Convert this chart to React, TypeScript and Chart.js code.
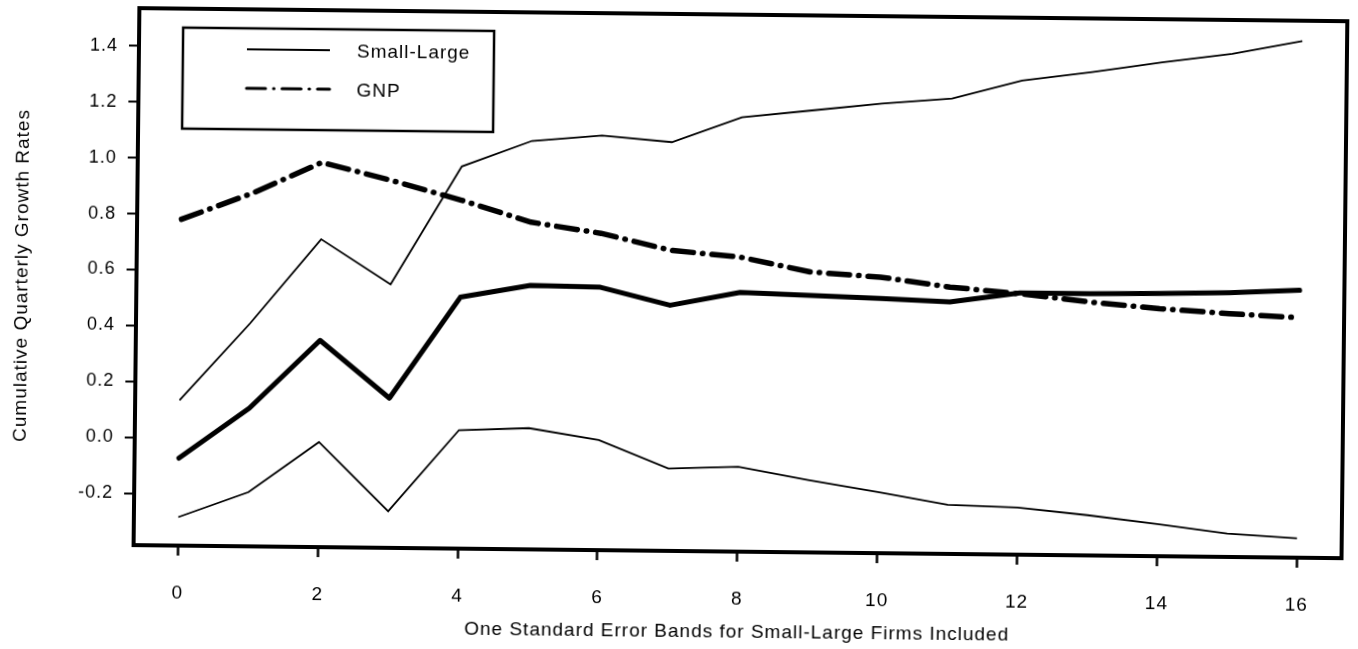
import { useEffect, useRef } from "react";
import { Chart, registerables } from "chart.js";

Chart.register(...registerables);

// Quarters after the shock (x axis)
const steps = [0, 1, 2, 3, 4, 5, 6, 7, 8, 9, 10, 11, 12, 13, 14, 15, 16];

// Cumulative response of small-minus-large firm growth, with one-s.e. bands
const smallLarge = [-0.073, 0.109, 0.354, 0.15, 0.514, 0.559, 0.555, 0.493, 0.542, 0.534, 0.526, 0.516, 0.551, 0.551, 0.554, 0.56, 0.571];
const upperBand = [0.134, 0.413, 0.716, 0.557, 0.982, 1.076, 1.098, 1.077, 1.169, 1.196, 1.223, 1.244, 1.311, 1.344, 1.382, 1.415, 1.463];
const lowerBand = [-0.284, -0.192, -0.01, -0.255, 0.038, 0.048, 0.008, -0.091, -0.082, -0.127, -0.167, -0.21, -0.217, -0.242, -0.271, -0.302, -0.317];

// Cumulative GNP growth response
const gnp = [0.782, 0.877, 0.991, 0.929, 0.861, 0.785, 0.748, 0.69, 0.668, 0.618, 0.602, 0.569, 0.548, 0.521, 0.5, 0.485, 0.473];

const xTickValues = [0, 2, 4, 6, 8, 10, 12, 14, 16];
const yTickValues = [-0.2, 0, 0.2, 0.4, 0.6, 0.8, 1.0, 1.2, 1.4];

const seriesNames = ["Small-Large", "GNP"];
const xTitle = "One Standard Error Bands for Small-Large Firms Included";
const yTitle = "Cumulative Quarterly Growth Rates";

const FONT = '"Liberation Sans", Arial, Helvetica, sans-serif';
const INK = "#000";
const GNP_DASH = [21, 9, 0.5, 9];

const toPoints = (values: number[]) => steps.map((s, i) => ({ x: s, y: values[i] }));

// Thick outer box around the plotting area
const framePlugin = {
  id: "frame",
  beforeDraw(chart: any) {
    (chart.ctx as any).letterSpacing = "1px";
  },
  afterDatasetsDraw(chart: any) {
    const { ctx, chartArea: a } = chart;
    ctx.save();
    ctx.strokeStyle = INK;
    ctx.lineWidth = 4;
    ctx.lineJoin = "miter";
    ctx.strokeRect(a.left, a.top, a.right - a.left, a.bottom - a.top);
    ctx.restore();
  },
};

// Boxed key in the upper-left corner of the plot
const keyPlugin = {
  id: "boxKey",
  afterDraw(chart: any) {
    const { ctx, chartArea: a } = chart;
    const bx = a.left + 44;
    const by = a.top + 19;
    const bw = 311;
    const bh = 101;
    ctx.save();
    ctx.fillStyle = "#fff";
    ctx.fillRect(bx, by, bw, bh);
    ctx.strokeStyle = INK;
    ctx.lineWidth = 2.5;
    ctx.strokeRect(bx, by, bw, bh);

    const x0 = a.left + 108;
    const x1 = a.left + 191;
    const rows = [a.top + 40, a.top + 79];

    ctx.lineCap = "butt";
    ctx.lineWidth = 2;
    ctx.setLineDash([]);
    ctx.beginPath();
    ctx.moveTo(x0, rows[0]);
    ctx.lineTo(x1, rows[0]);
    ctx.stroke();

    ctx.lineWidth = 3;
    ctx.lineCap = "round";
    ctx.setLineDash([19, 8, 0.5, 8]);
    ctx.beginPath();
    ctx.moveTo(x0, rows[1]);
    ctx.lineTo(x1, rows[1]);
    ctx.stroke();
    ctx.setLineDash([]);

    ctx.fillStyle = INK;
    ctx.font = `19px ${FONT}`;
    (ctx as any).letterSpacing = "1px";
    ctx.textAlign = "left";
    ctx.textBaseline = "middle";
    ctx.fillText(seriesNames[0], a.left + 218, rows[0] + 2);
    ctx.fillText(seriesNames[1], a.left + 218, rows[1] + 2);
    ctx.restore();
  },
};

export default function App() {
  const canvasRef = useRef<HTMLCanvasElement | null>(null);

  useEffect(() => {
    const canvas = canvasRef.current;
    if (!canvas) return;

    const thin = { borderColor: INK, borderWidth: 1.8, pointRadius: 0, tension: 0, fill: false };

    const chart = new Chart(canvas, {
      type: "line",
      data: {
        datasets: [
          { label: "upper", data: toPoints(upperBand), ...thin },
          { label: "lower", data: toPoints(lowerBand), ...thin },
          {
            label: seriesNames[0],
            data: toPoints(smallLarge),
            borderColor: INK,
            borderWidth: 5,
            borderJoinStyle: "round",
            borderCapStyle: "round",
            pointRadius: 0,
            tension: 0,
          },
          {
            label: seriesNames[1],
            data: toPoints(gnp),
            borderColor: INK,
            borderWidth: 5.5,
            borderDash: GNP_DASH,
            borderCapStyle: "round",
            borderJoinStyle: "round",
            pointRadius: 0,
            tension: 0,
          },
        ],
      },
      options: {
        responsive: false,
        animation: false,
        events: [],
        devicePixelRatio: 1,
        layout: { padding: { top: 14, right: 14, left: 0, bottom: 0 } },
        plugins: {
          legend: { display: false },
          tooltip: { enabled: false },
        },
        scales: {
          x: {
            type: "linear",
            min: -0.635,
            max: 16.64,
            afterBuildTicks: (scale: any) => {
              scale.ticks = xTickValues.map((v) => ({ value: v }));
            },
            afterFit: (scale: any) => {
              scale.height = 98;
              scale.paddingLeft = 0;
              scale.paddingRight = 0;
            },
            border: { display: false },
            grid: {
              drawOnChartArea: false,
              drawTicks: true,
              tickLength: 10,
              tickWidth: 2.5,
              tickColor: INK,
            },
            ticks: {
              color: INK,
              font: { family: FONT, size: 19 },
              padding: 26,
              maxRotation: 0,
              autoSkip: false,
              callback: (v: any) => String(v),
            },
            title: {
              display: true,
              text: xTitle,
              color: INK,
              font: { family: FONT, size: 19 },
              padding: { top: 0, bottom: 6 },
            },
          },
          y: {
            type: "linear",
            min: -0.386,
            max: 1.536,
            afterBuildTicks: (scale: any) => {
              scale.ticks = yTickValues.map((v) => ({ value: v }));
            },
            afterFit: (scale: any) => {
              scale.width = 136;
              scale.paddingTop = 0;
              scale.paddingBottom = 0;
            },
            border: { display: false },
            grid: {
              drawOnChartArea: false,
              drawTicks: true,
              tickLength: 10,
              tickWidth: 2,
              tickColor: INK,
            },
            ticks: {
              color: INK,
              font: { family: FONT, size: 18 },
              padding: 11,
              callback: (v: any) => Number(v).toFixed(1),
            },
            title: {
              display: true,
              text: yTitle,
              color: INK,
              font: { family: FONT, size: 19 },
              padding: { top: 10, bottom: 0 },
            },
          },
        },
      },
      plugins: [framePlugin, keyPlugin],
    } as any);

    return () => chart.destroy();
  }, []);

  return (
    <div
      style={{
        position: "absolute",
        left: 0,
        top: 0,
        width: 1358,
        height: 649,
        overflow: "hidden",
        background: "#fff",
      }}
    >
      <canvas
        ref={canvasRef}
        width={1358}
        height={649}
        style={{
          display: "block",
          width: 1358,
          height: 649,
          transform: "rotate(0.62deg)",
          transformOrigin: "679px 324.5px",
        }}
      />
    </div>
  );
}
